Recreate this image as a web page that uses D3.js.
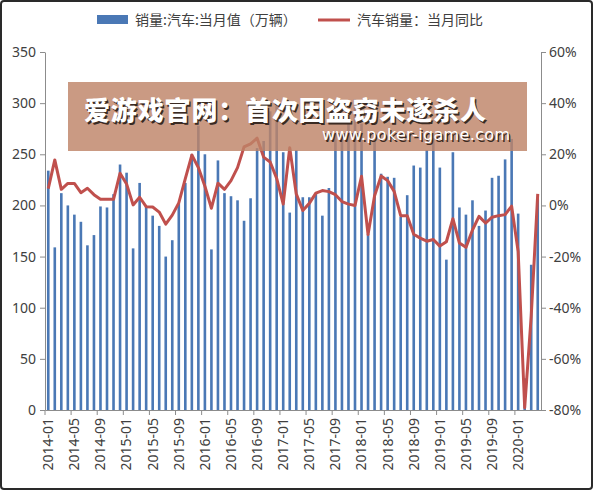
<!DOCTYPE html>
<html>
<head>
<meta charset="utf-8">
<script src="https://cdn.jsdelivr.net/npm/d3@7"></script>
<style>
  body { margin: 0; background: #fff; }
  svg text { font-family: "Noto Sans CJK SC", "Noto Sans", sans-serif; }
</style>
</head>
<body>
<script>
// monthly car sales, 2014-01 .. 2020-04
var years = ["2014","2015","2016","2017","2018","2019","2020"];
var monthNums = ["01","02","03","04","05","06","07","08","09","10","11","12"];

// 销量:汽车:当月值 (万辆)
var sales = [234,159,212,200,191,184,161,171,199,198,211,240,
             232,158,222,199,190,180,150,166,202,222,250,278,
             250,157,244,212,209,205,185,207,256,263,292,304,
             252,193,254,208,208,212,190,217,270,271,294,304,
             280,172,265,231,228,227,189,210,239,237,254,266,
             237,147,252,198,191,205,180,195,227,229,245,265,
             192,31,142,207];

// 汽车销量：当月同比 (%)
var yoy = [6.6,17.8,6.3,8.6,8.6,5.0,6.7,4.2,2.4,2.4,2.4,12.6,
           8.4,0.2,3.2,-0.5,-0.6,-2.6,-7.3,-3.8,1.0,10.5,19.7,14.8,
           7.5,-1.1,8.7,6.3,9.7,14.8,22.9,24.1,26.3,18.9,17.0,10.6,
           0.5,22.6,4.5,-2.0,0.8,4.8,5.8,5.4,4.2,1.5,0.5,0.0,
           11.4,-11.4,3.8,11.5,9.7,5.5,-4.0,-4.0,-11.3,-12.8,-14.0,-13.3,
           -15.9,-14.2,-5.2,-14.7,-16.4,-9.6,-4.3,-6.9,-4.6,-4.0,-3.6,-0.3,
           -18.0,-79.1,-43.3,4.5];

var leftTicks = [0,50,100,150,200,250,300,350];
var rightTicks = [-80,-60,-40,-20,0,20,40,60];
var legendNames = ["销量:汽车:当月值（万辆）", "汽车销量：当月同比"];
var bannerTitle = "爱游戏官网：首次因盗窃未遂杀人";
var bannerUrl = "www.poker-igame.com";

var months = [];
years.forEach(function(y) {
  monthNums.forEach(function(m) { if (months.length < sales.length) months.push(y + "-" + m); });
});

function chart() {
var data = months.map(function(m, i) { return {month: m, sales: sales[i], yoy: yoy[i]}; });

var W = 594, H = 491;
var plot = {left: 45, right: 541, top: 52, bottom: 410};

var svg = d3.select("body").append("svg")
    .attr("width", W)
    .attr("height", H);

svg.append("rect").attr("width", W).attr("height", H).attr("fill", "#fff");

var x = d3.scaleBand().domain(months).range([plot.left, plot.right]).paddingInner(0.6).paddingOuter(0.3);
var y = d3.scaleLinear().domain([0, 350]).range([plot.bottom, plot.top]);
var y2 = d3.scaleLinear().domain([-80, 60]).range([plot.bottom, plot.top]);
var step = x.step();

// bars
svg.selectAll(".bar")
    .data(data)
  .enter().append("rect")
    .attr("class", "bar")
    .attr("x", function(d) { return x(d.month); })
    .attr("width", x.bandwidth())
    .attr("y", function(d) { return y(d.sales); })
    .attr("height", function(d) { return y(0) - y(d.sales); })
    .attr("fill", "#4a78b5");

// yoy line
var line = d3.line()
    .x(function(d) { return x(d.month) + x.bandwidth() / 2; })
    .y(function(d) { return y2(d.yoy); });

svg.append("path")
    .datum(data)
    .attr("d", line)
    .attr("fill", "none")
    .attr("stroke", "#c0504d")
    .attr("stroke-width", 3)
    .attr("stroke-linejoin", "round");

// axes
function styleAxis(g) {
  g.selectAll("path, line").attr("stroke", "#8c8c8c");
  g.selectAll("text").attr("fill", "#404040").style("font-size", "14px")
    .style("font-family", "'Noto Sans', sans-serif");
}

svg.append("g")
    .attr("transform", "translate(" + plot.left + ",0)")
    .call(d3.axisLeft(y).tickValues(leftTicks).tickSize(5).tickSizeOuter(0).tickPadding(4))
    .call(styleAxis);

svg.append("g")
    .attr("transform", "translate(" + plot.right + ",0)")
    .call(d3.axisRight(y2).tickValues(rightTicks).tickSize(5).tickSizeOuter(0).tickPadding(3)
      .tickFormat(function(d) { return d + "%"; }))
    .call(styleAxis);

var xAxis = svg.append("g")
    .attr("transform", "translate(0," + plot.bottom + ")")
    .call(d3.axisBottom(x).tickValues(months.filter(function(m, i) { return i % 4 == 0; }))
      .tickSize(5).tickSizeOuter(0))
    .call(styleAxis);

// ticks sit on the category boundary, labels in the middle
xAxis.selectAll(".tick line").attr("x1", -step / 2).attr("x2", -step / 2);
xAxis.selectAll(".tick text")
    .attr("transform", "rotate(-90)")
    .attr("x", -8)
    .attr("y", 0)
    .attr("dy", "0.35em")
    .style("text-anchor", "end");

// legend
var lg = svg.append("g");
lg.append("rect").attr("x", 97).attr("y", 15).attr("width", 31).attr("height", 9).attr("fill", "#4a78b5");
lg.append("text").attr("x", 135).attr("y", 25).text(legendNames[0])
    .attr("fill", "#404040").style("font-size", "14px");
lg.append("line").attr("x1", 318).attr("x2", 350).attr("y1", 20).attr("y2", 20)
    .attr("stroke", "#c0504d").attr("stroke-width", 3);
lg.append("text").attr("x", 357).attr("y", 25).text(legendNames[1])
    .attr("fill", "#404040").style("font-size", "14px");

// watermark banner over the plot
svg.append("rect")
    .attr("x", 68).attr("y", 82).attr("width", 459).attr("height", 69)
    .attr("fill", "#be8468").attr("opacity", 0.82);

[["#3a2a22", 1.5], ["#fff", 0]].forEach(function(s) {
  svg.append("text")
      .attr("x", 84 + s[1]).attr("y", 120 + s[1])
      .attr("textLength", 402)
      .text(bannerTitle)
      .attr("fill", s[0])
      .style("font-size", "26px")
      .style("font-weight", "900");
  svg.append("text")
      .attr("x", 322 + s[1]).attr("y", 140 + s[1])
      .attr("textLength", 188)
      .text(bannerUrl)
      .attr("fill", s[0])
      .style("font-size", "16px")
      .style("font-family", "'DejaVu Sans', sans-serif");
});

// outer frame
svg.append("rect")
    .attr("x", 1).attr("y", 1).attr("width", W - 3).attr("height", H - 3)
    .attr("rx", 3)
    .attr("fill", "none").attr("stroke", "#2a2a2a").attr("stroke-width", 2);
}

chart();
</script>
</body>
</html>
